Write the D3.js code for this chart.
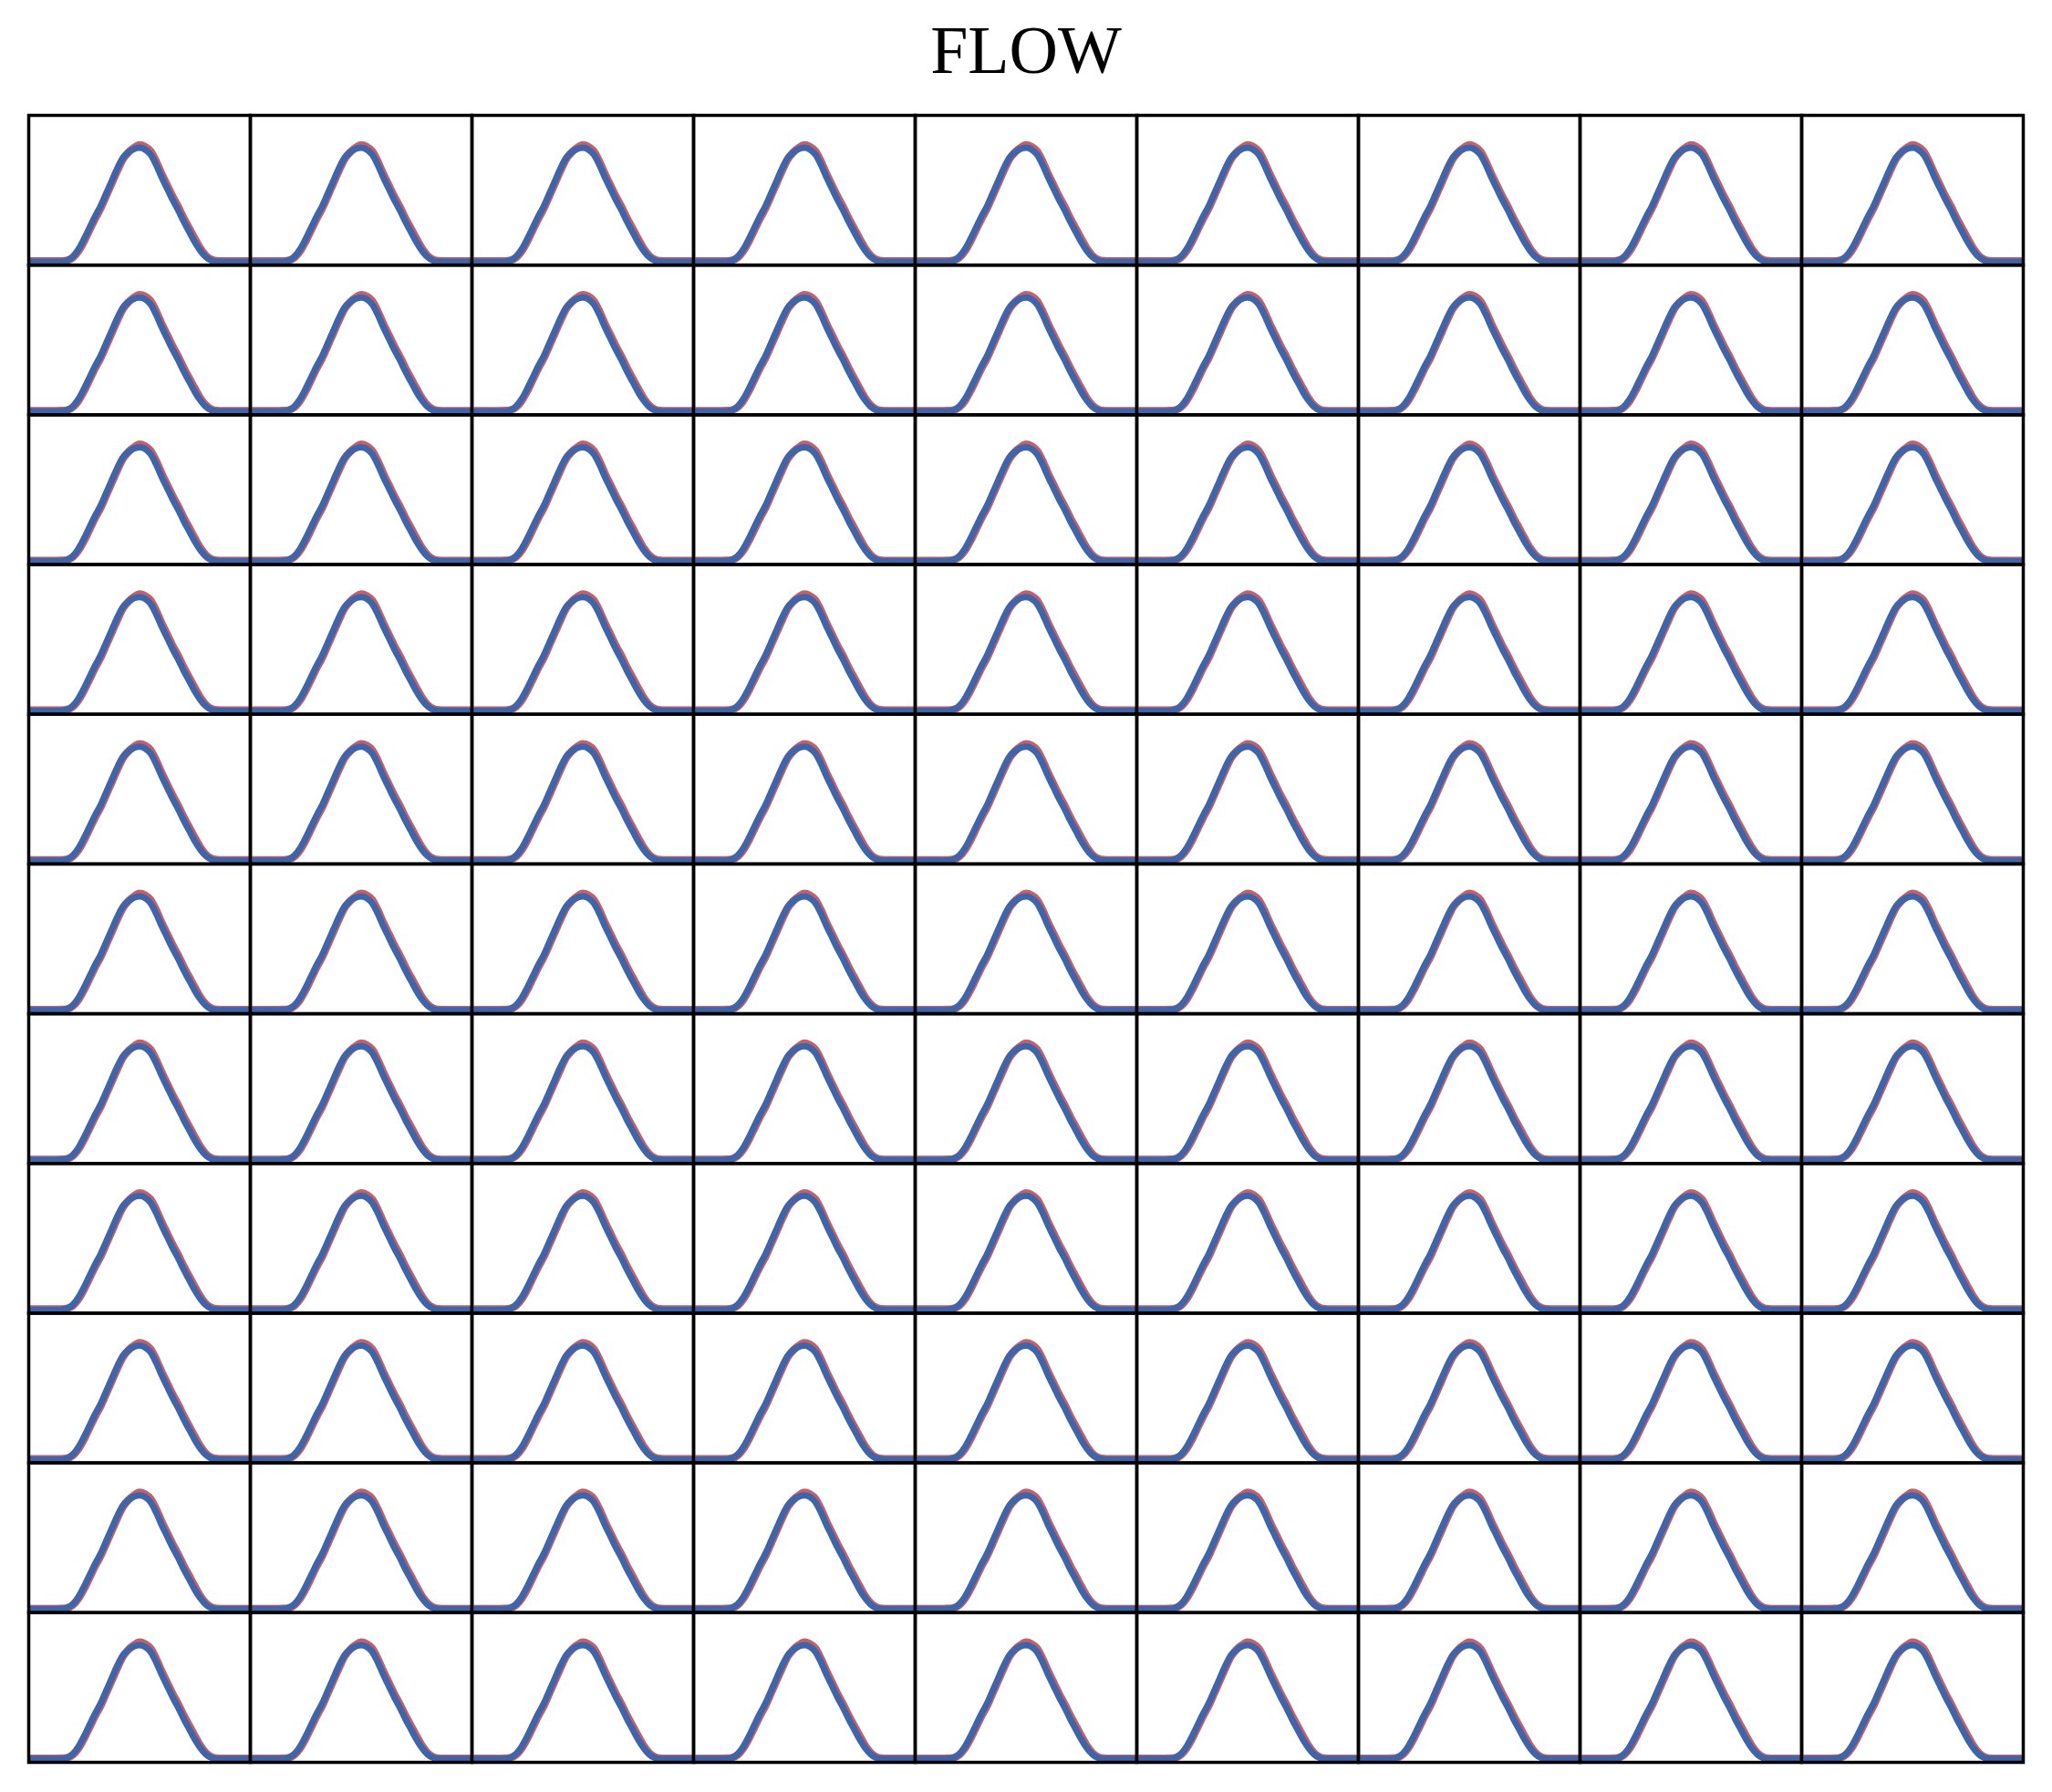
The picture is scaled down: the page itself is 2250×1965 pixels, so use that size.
<!DOCTYPE html>
<html>
<head>
<meta charset="utf-8">
<script src="https://cdn.jsdelivr.net/npm/d3@7"></script>
<style>
  html, body { margin: 0; padding: 0; background: #fff; }
  svg { display: block; }
</style>
</head>
<body>
<div id="chart"></div>
<script>
// ---- data ----
const title = "FLOW";
const nRows = 11;
const nCols = 9;
// normalized position across each panel
const xs = [0.000,0.025,0.050,0.075,0.100,0.125,0.150,0.175,0.200,0.225,
            0.250,0.275,0.300,0.325,0.350,0.375,0.400,0.425,0.450,0.475,
            0.500,0.525,0.550,0.575,0.600,0.625,0.650,0.675,0.700,0.725,
            0.750,0.775,0.800,0.825,0.850,0.875,0.900,0.925,0.950,0.975,1.000];
// predicted flow (blue)
const blueValues = [0,0,0,0,0,0,0.002,0.012,0.045,0.11,
                    0.20,0.30,0.40,0.49,0.60,0.71,0.82,0.91,0.96,0.99,
                    1.00,0.985,0.94,0.85,0.74,0.64,0.54,0.45,0.35,0.26,
                    0.17,0.095,0.04,0.01,0.001,0,0,0,0,0,0];
// reference flow (red)
const redValues  = [0.005,0.005,0.005,0.005,0.005,0.005,0.006,0.012,0.038,0.095,
                    0.18,0.28,0.38,0.47,0.58,0.69,0.80,0.90,0.96,1.00,
                    1.025,1.01,0.97,0.88,0.77,0.67,0.57,0.48,0.38,0.29,
                    0.20,0.115,0.052,0.018,0.007,0.005,0.005,0.005,0.005,0.005,0.005];

// ---- layout ----
const W = 2250, H = 1965;
const gridLeft = 31.5, gridRight = 2218.5, gridTop = 126.5, gridBottom = 1932.5;
const cellW = (gridRight - gridLeft) / nCols;
const cellH = (gridBottom - gridTop) / nRows;

const svg = d3.select("#chart").append("svg")
  .attr("width", W).attr("height", H);

svg.append("text")
  .attr("x", W / 2).attr("y", 80)
  .attr("text-anchor", "middle")
  .attr("font-family", "'Liberation Serif', 'DejaVu Serif', serif")
  .attr("font-size", 74)
  .attr("fill", "#000")
  .text(title);

const x = d3.scaleLinear().domain([0, 1]).range([0, cellW]);
const y = d3.scaleLinear().domain([-0.03, 1.285]).range([cellH, 0]);

const blueData = xs.map((v, i) => [v, blueValues[i]]);
const redData = xs.map((v, i) => [v, redValues[i]]);
const line = d3.line().x(d => x(d[0])).y(d => y(d[1])).curve(d3.curveMonotoneX);

svg.append("defs").append("clipPath").attr("id", "cellclip")
  .append("rect").attr("x", 0).attr("y", -20).attr("width", cellW).attr("height", cellH + 20);

const cells = [];
for (let r = 0; r < nRows; r++) for (let c = 0; c < nCols; c++) cells.push({r, c});

const g = svg.selectAll("g.cell").data(cells).enter().append("g")
  .attr("class", "cell")
  .attr("transform", d => `translate(${gridLeft + d.c * cellW},${gridTop + d.r * cellH})`);

const inner = g.append("g").attr("clip-path", "url(#cellclip)");
inner.append("path")
  .attr("d", line(redData))
  .attr("fill", "none")
  .attr("stroke", "#c2606e")
  .attr("stroke-width", 8.5)
  .attr("stroke-linejoin", "round")
  .attr("stroke-linecap", "butt");
inner.append("path")
  .attr("d", line(blueData))
  .attr("fill", "none")
  .attr("stroke", "#4064a8")
  .attr("stroke-width", 7)
  .attr("stroke-linejoin", "round")
  .attr("stroke-linecap", "butt");

// frames
g.append("rect")
  .attr("x", 0).attr("y", 0)
  .attr("width", cellW).attr("height", cellH)
  .attr("fill", "none")
  .attr("stroke", "#000")
  .attr("stroke-width", 3.5);
</script>
</body>
</html>
